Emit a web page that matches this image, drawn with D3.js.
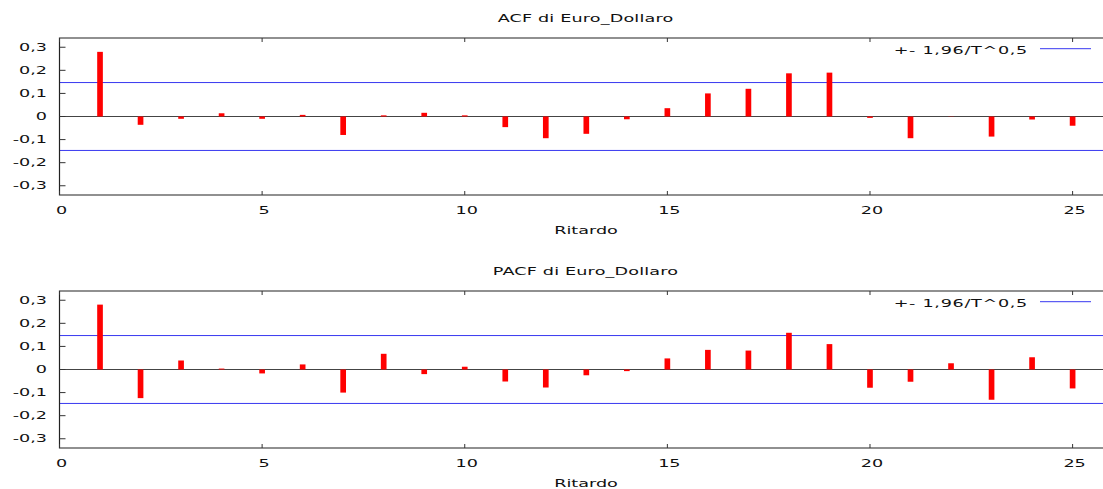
<!DOCTYPE html>
<html>
<head>
<meta charset="utf-8">
<script src="https://cdn.jsdelivr.net/npm/d3@7"></script>
<style>
  html, body { margin: 0; padding: 0; background: #fff; }
  svg { display: block; }
  text { font-family: "DejaVu Sans", sans-serif; font-size: 10px; fill: #111; }
</style>
</head>
<body>
<svg id="chart" width="1103" height="489"></svg>
<script>
// Correlogram of the Euro/Dollar series: ACF and PACF up to lag 25
const lags = d3.range(1, 26);
const acfValues = [0.280, -0.036, -0.010, 0.014, -0.010, 0.007, -0.080, 0.005, 0.016, 0.005,
                   -0.046, -0.094, -0.075, -0.012, 0.036, 0.100, 0.120, 0.187, 0.190, -0.006,
                   -0.094, -0.001, -0.087, -0.013, -0.040];
const pacfValues = [0.281, -0.124, 0.039, 0.004, -0.017, 0.022, -0.100, 0.068, -0.020, 0.012,
                    -0.052, -0.078, -0.025, -0.007, 0.048, 0.085, 0.082, 0.159, 0.110, -0.079,
                    -0.053, 0.027, -0.131, 0.053, -0.082];
const bandLimit = 0.147;             // 1,96 / sqrt(T)
const xTicks = [0, 5, 10, 15, 20, 25];
const yTicks = [-0.3, -0.2, -0.1, 0, 0.1, 0.2, 0.3];
const titles = ["ACF di Euro_Dollaro", "PACF di Euro_Dollaro"];
const xLabel = "Ritardo";
const legendLabel = "+- 1,96/T^0,5";

const svg = d3.select("#chart");
const SX = 1.76;                     // horizontal stretch of the lettering
const fmt = v => v === 0 ? "0" : d3.format(".1f")(v).replace(".", ",").replace("−", "-");

function label(g, x, y, str, anchor, spacing) {
  g.append("g")
    .attr("transform", `translate(${x},${y}) scale(${SX},1)`)
    .append("text")
    .attr("text-anchor", anchor)
    .style("letter-spacing", spacing || "0px")
    .text(str);
}

const x = d3.scaleLinear().domain([0, 25.75]).range([59.5, 1103]);

function panel(top, values, title) {
  const y = d3.scaleLinear().domain([-0.34, 0.34]).range([top + 157, top]);
  const g = svg.append("g");
  const x0 = x.range()[0], x1 = x.range()[1];
  const yb = y.range()[0], yt = y.range()[1];

  // limits
  [bandLimit, -bandLimit].forEach(v => {
    g.append("line")
      .attr("x1", x0).attr("x2", x1)
      .attr("y1", y(v)).attr("y2", y(v))
      .attr("stroke", "#3838f0").attr("stroke-width", 1);
  });

  // zero line
  g.append("line")
    .attr("x1", x0).attr("x2", x1).attr("y1", y(0)).attr("y2", y(0))
    .attr("stroke", "#444").attr("stroke-width", 1);

  // bars
  const half = 0.07;
  g.selectAll("rect.bar").data(values).enter().append("rect")
    .attr("class", "bar")
    .attr("x", (d, i) => x(lags[i] - half))
    .attr("width", (d, i) => x(lags[i] + half) - x(lags[i] - half))
    .attr("y", d => Math.min(y(d), y(0)))
    .attr("height", d => Math.abs(y(d) - y(0)))
    .attr("fill", "#ff0000");

  // frame: left, bottom, top
  g.append("path")
    .attr("d", `M${x1},${yt}H${x0}V${yb}H${x1}`)
    .attr("fill", "none").attr("stroke", "#222").attr("stroke-width", 1.2);

  // y ticks (inward) and labels
  yTicks.forEach(v => {
    g.append("line").attr("x1", x0).attr("x2", x0 + 6)
      .attr("y1", y(v)).attr("y2", y(v)).attr("stroke", "#333");
    label(g, 47, y(v) + 3.7, fmt(v), "end");
  });

  // x ticks on bottom and top (inward)
  xTicks.forEach(v => {
    g.append("line").attr("x1", x(v)).attr("x2", x(v))
      .attr("y1", yb).attr("y2", yb - 4).attr("stroke", "#333");
    g.append("line").attr("x1", x(v)).attr("x2", x(v))
      .attr("y1", yt).attr("y2", yt + 4).attr("stroke", "#333");
    label(g, x(v) + 2, yb + 19, String(v), "middle");
  });

  // title and axis label
  label(g, 585.5, top - 15.7, title, "middle", "0.1px");
  label(g, 586, yb + 39, xLabel, "middle");

  // legend
  label(g, 1028, top + 16, legendLabel, "end", "0.4px");
  g.append("line").attr("x1", 1040).attr("x2", 1091)
    .attr("y1", top + 10.7).attr("y2", top + 10.7)
    .attr("stroke", "#3838f0").attr("stroke-width", 1);
}

panel(38, acfValues, titles[0]);
panel(291, pacfValues, titles[1]);
</script>
</body>
</html>
